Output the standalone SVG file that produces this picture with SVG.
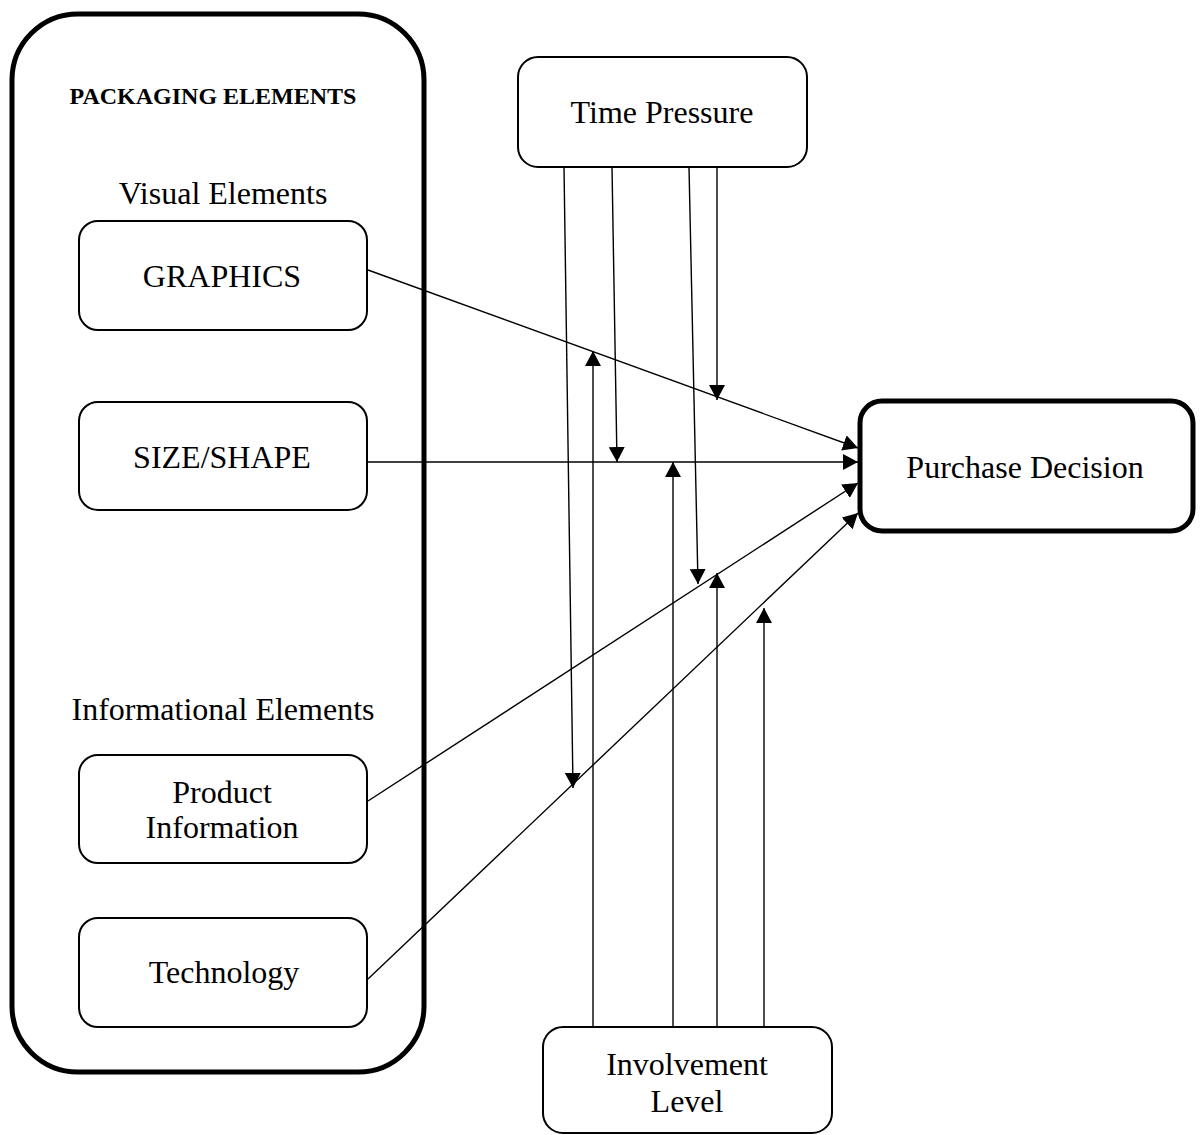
<svg xmlns="http://www.w3.org/2000/svg" width="1201" height="1135" viewBox="0 0 1201 1135">
  <style>
    .box { fill: #fff; stroke: #000; stroke-width: 2; }
    .thick { fill: #fff; stroke: #000; stroke-width: 5; }
    .lbl { font-family: "Liberation Serif", "Times New Roman", serif; font-size: 32px; fill: #000; text-anchor: middle; }
    .head { font-family: "Liberation Serif", "Times New Roman", serif; font-size: 24px; font-weight: bold; fill: #000; text-anchor: middle; }
    .link { stroke: #000; stroke-width: 1.4; fill: none; marker-end: url(#arrow); }
  </style>
  <defs>
    <marker id="arrow" markerUnits="userSpaceOnUse" markerWidth="17" markerHeight="17" refX="15" refY="8" orient="auto">
      <path d="M0,0 L15,8 L0,16 z" fill="#000"/>
    </marker>
  </defs>
  <rect width="1201" height="1135" fill="#fff"/>

  <!-- packaging elements container -->
  <g id="packaging">
    <rect class="thick" x="12" y="14" width="412" height="1058" rx="66" ry="66"/>
    <text class="head" x="213" y="104">PACKAGING ELEMENTS</text>
    <text class="lbl" x="223" y="204">Visual Elements</text>
    <text class="lbl" x="223" y="720">Informational Elements</text>
  </g>

  <g id="graphics">
    <rect class="box" x="79" y="221" width="288" height="109" rx="19"/>
    <text class="lbl" x="222" y="287">GRAPHICS</text>
  </g>
  <g id="size-shape">
    <rect class="box" x="79" y="402" width="288" height="108" rx="19"/>
    <text class="lbl" x="222" y="468">SIZE/SHAPE</text>
  </g>
  <g id="product-information">
    <rect class="box" x="79" y="755" width="288" height="108" rx="19"/>
    <text class="lbl" x="222" y="803">Product</text>
    <text class="lbl" x="222" y="838">Information</text>
  </g>
  <g id="technology">
    <rect class="box" x="79" y="918" width="288" height="109" rx="19"/>
    <text class="lbl" x="224" y="983">Technology</text>
  </g>

  <g id="time-pressure">
    <rect class="box" x="518" y="57" width="289" height="110" rx="20"/>
    <text class="lbl" x="662" y="123">Time Pressure</text>
  </g>

  <g id="purchase-decision">
    <rect class="thick" x="860" y="401" width="333" height="130" rx="22"/>
    <text class="lbl" x="1025" y="478">Purchase Decision</text>
  </g>

  <g id="involvement-level">
    <rect class="box" x="543" y="1027" width="289" height="106" rx="20"/>
    <text class="lbl" x="687" y="1075">Involvement</text>
    <text class="lbl" x="687" y="1112">Level</text>
  </g>

  <g id="connectors">
    <!-- packaging elements into purchase decision -->
    <line class="link" x1="368" y1="270" x2="858" y2="448"/>
    <line class="link" x1="368" y1="462" x2="858" y2="462"/>
    <line class="link" x1="368" y1="801" x2="858" y2="483"/>
    <line class="link" x1="368" y1="979" x2="858" y2="513"/>
    <!-- time pressure moderating paths -->
    <line class="link" x1="564" y1="167" x2="573" y2="788"/>
    <line class="link" x1="612" y1="167" x2="617" y2="462"/>
    <line class="link" x1="689" y1="167" x2="698" y2="584"/>
    <line class="link" x1="717" y1="167" x2="717" y2="400"/>
    <!-- involvement level moderating paths -->
    <line class="link" x1="593" y1="1027" x2="593" y2="351"/>
    <line class="link" x1="673" y1="1027" x2="673" y2="462"/>
    <line class="link" x1="717" y1="1027" x2="717" y2="573"/>
    <line class="link" x1="764" y1="1027" x2="764" y2="608"/>
  </g>
</svg>
